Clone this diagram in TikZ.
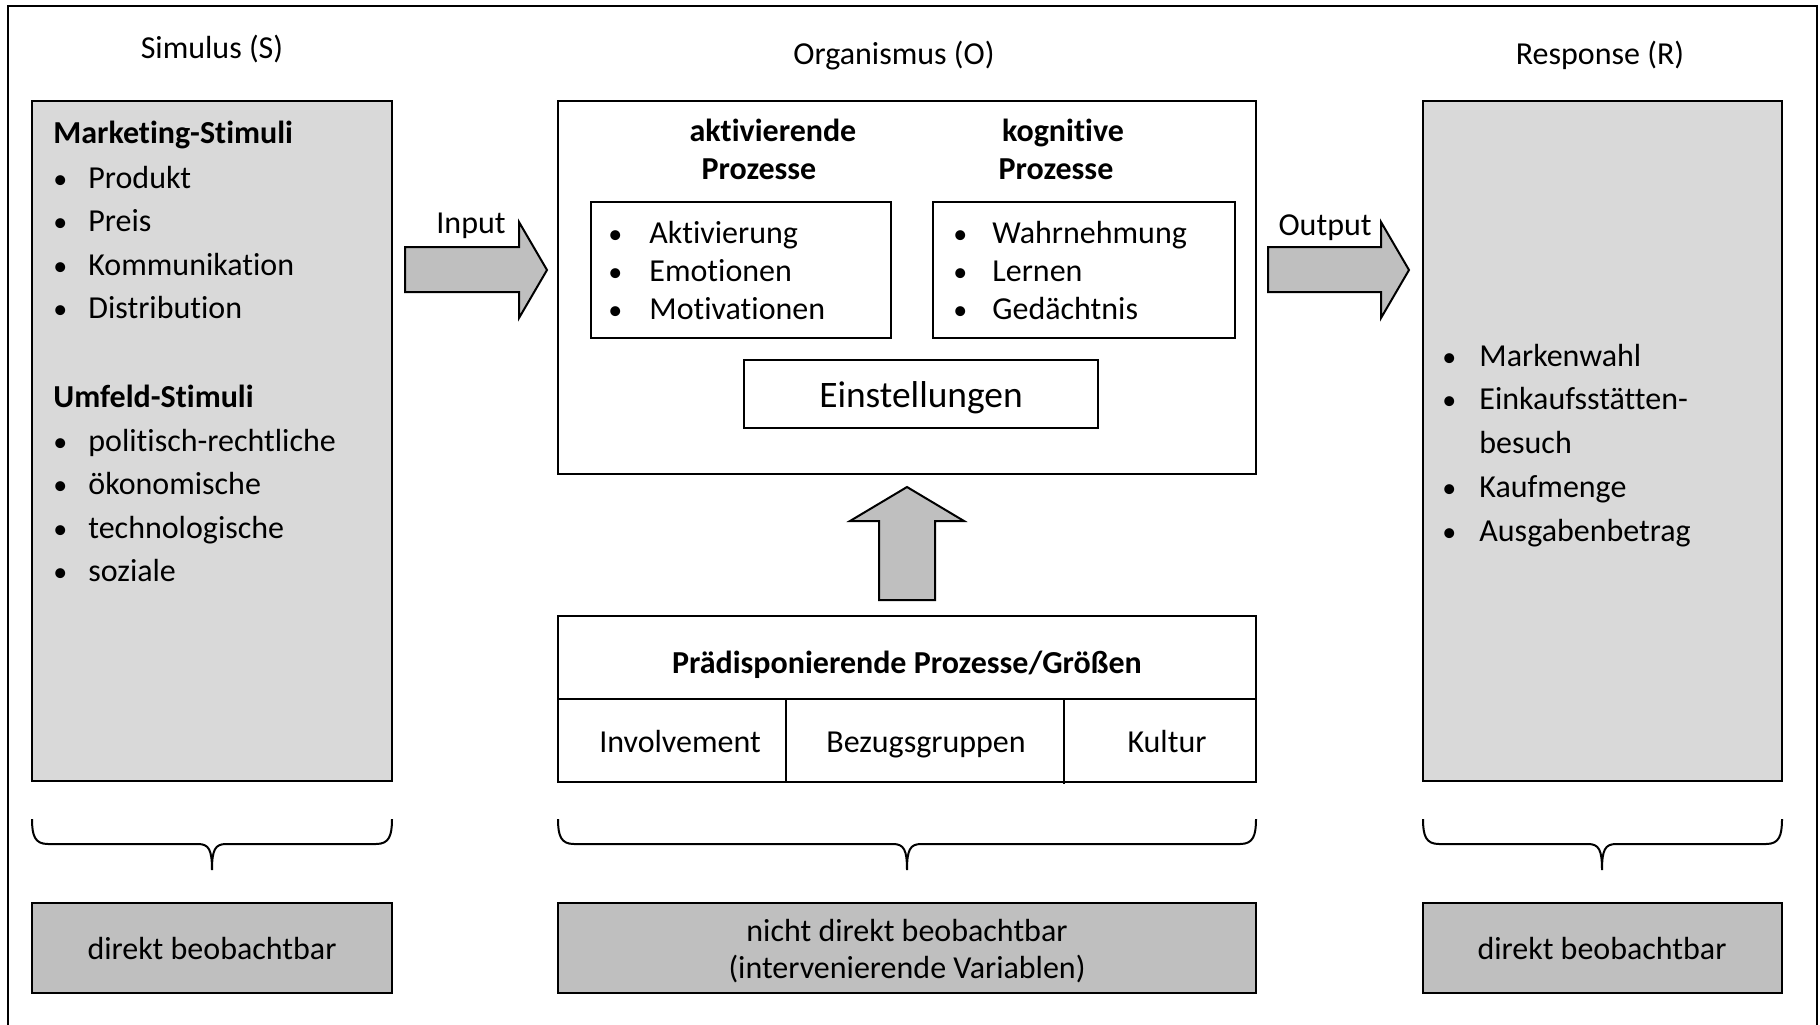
\documentclass[tikz,border=0pt]{standalone}
\usepackage{fontspec}
\setmainfont{Carlito}[Ligatures=NoCommon]
\definecolor{lightfill}{HTML}{D9D9D9}
\definecolor{midfill}{HTML}{BFBFBF}
\newcommand{\obsbrace}[3]{% left end, tip, right end
  \draw[bracestyle] (#1,819) .. controls (#1,836) and (#1+3,844) .. (#1+16,844)
    -- (#2-14,844) .. controls (#2-3,844) and (#2,850) .. (#2,870)
    .. controls (#2,850) and (#2+3,844) .. (#2+14,844)
    -- (#3-16,844) .. controls (#3-3,844) and (#3,836) .. (#3,819);}
\begin{document}
\begin{tikzpicture}[x=0.5pt,y=-0.5pt,
  box/.style={draw=black, line width=1pt},
  txt/.style={inner sep=0pt, font=\fontsize{16}{19}\selectfont},
  item/.style={txt, anchor=base west},
  bul/.style={inner sep=0pt, anchor=base west, font=\fontsize{14}{19}\selectfont},
  head/.style={inner sep=0pt, font=\fontsize{16}{19}\selectfont\bfseries, anchor=base},
  title/.style={inner sep=0pt, font=\fontsize{16}{19}\selectfont, anchor=base},
  blockarrow/.style={draw=black, line width=1pt, fill=midfill, line join=miter},
  bracestyle/.style={draw=black, line width=1pt}]
\useasboundingbox (0,0) rectangle (1820,1024);

% outer frame
\draw[line width=1pt] (8,6) rectangle (1817,1034);

% column titles
\node[title] (tS) at (212,58) {Simulus (S)};
\node[title] (tO) at (894,64) {Organismus (O)};
\node[title] (tR) at (1600,64) {Response (R)};

% stimulus box
\draw[box, fill=lightfill] (32,101) rectangle (392,781);
\node[head, anchor=base west] (mk) at (53,143) {Marketing-Stimuli};
\foreach \t [count=\i] in {Produkt,Preis,Kommunikation,Distribution}{
  \node[bul] (mb\i) at (53,188+43.6*\i-43.6) {•};
  \node[item] (m\i) at (88,188+43.6*\i-43.6) {\t};
}
\node[head, anchor=base west] (uf) at (53,407) {Umfeld-Stimuli};
\foreach \t [count=\i] in {politisch-rechtliche,ökonomische,technologische,soziale}{
  \node[bul] (ub\i) at (53,451+43.6*\i-43.6) {•};
  \node[item] (u\i) at (88,451+43.6*\i-43.6) {\t};
}

% organism box
\draw[box] (558,101) rectangle (1256,474);
\node[head] (ak1) at (773,141) {aktivierende};
\node[head] (ak2) at (759,179) {Prozesse};
\node[head] (kg1) at (1063,141) {kognitive};
\node[head] (kg2) at (1056,179) {Prozesse};
\draw[box] (591,202) rectangle (891,338);
\draw[box] (933,202) rectangle (1235,338);
\foreach \t [count=\i] in {Aktivierung,Emotionen,Motivationen}{
  \node[bul] (ab\i) at (608,243+38.2*\i-38.2) {•};
  \node[item] (a\i) at (649,243+38.2*\i-38.2) {\t};
}
\foreach \t [count=\i] in {Wahrnehmung,Lernen,Gedächtnis}{
  \node[bul] (kb\i) at (953,243+38.2*\i-38.2) {•};
  \node[item] (k\i) at (992,243+38.2*\i-38.2) {\t};
}
\draw[box] (744,360) rectangle (1098,428);
\node[inner sep=0pt, anchor=base, font=\fontsize{18.7}{22}\selectfont] (ein) at (921,407) {Einstellungen};

% response box
\draw[box, fill=lightfill] (1423,101) rectangle (1782,781);
\foreach \t [count=\i] in {Markenwahl,Einkaufsstätten-,besuch,Kaufmenge,Ausgabenbetrag}{
  \node[item] (r\i) at (1479,366+43.8*\i-43.8) {\t};
}
\foreach \i in {1,2,4,5}{
  \node[bul] (rb\i) at (1442,366+43.8*\i-43.8) {•};
}

% input / output block arrows
\draw[blockarrow] (405,247) -- (519,247) -- (519,222) -- (547,270) -- (519,318)
  -- (519,292) -- (405,292) -- cycle;
\node[title, anchor=base east] (in) at (506,233) {Input};
\draw[blockarrow] (1268,247) -- (1381,247) -- (1381,222) -- (1409,270) -- (1381,318)
  -- (1381,292) -- (1268,292) -- cycle;
\node[title, anchor=base east] (out) at (1372,235) {Output};

% upward block arrow
\draw[blockarrow] (879,600) -- (879,521) -- (850,521) -- (907,487) -- (964,521)
  -- (935,521) -- (935,600) -- cycle;

% predisposing processes
\draw[box] (558,616) rectangle (1256,782);
\draw[line width=1pt] (558,699) -- (1256,699);
\draw[line width=1pt] (786,699) -- (786,782);
\draw[line width=1pt] (1064,699) -- (1064,784);
\node[head] (pr) at (907,673) {Prädisponierende Prozesse/Größen};
\node[title] (inv) at (680,752) {Involvement};
\node[title] (bez) at (926,752) {Bezugsgruppen};
\node[title] (kul) at (1167,752) {Kultur};

% braces
\obsbrace{32}{212}{392}
\obsbrace{558}{907}{1256}
\obsbrace{1423}{1602}{1782}

% observability boxes
\draw[box, fill=midfill] (32,903) rectangle (392,993);
\draw[box, fill=midfill] (558,903) rectangle (1256,993);
\draw[box, fill=midfill] (1423,903) rectangle (1782,993);
\node[title] (o1) at (212,959) {direkt beobachtbar};
\node[title] (o2a) at (907,941) {nicht direkt beobachtbar};
\node[title] (o2b) at (907,978) {(intervenierende Variablen)};
\node[title] (o3) at (1602,959) {direkt beobachtbar};
\end{tikzpicture}
\end{document}
